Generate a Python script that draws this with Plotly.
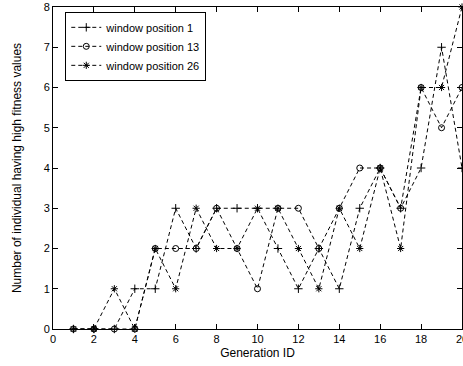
import plotly.graph_objects as go

generations = list(range(1, 21))
wp1 = [0, 0, 0, 1, 1, 3, 2, 3, 3, 3, 2, 1, 2, 1, 3, 4, 3, 4, 7, 4]
wp13 = [0, 0, 0, 0, 2, 2, 2, 3, 2, 1, 3, 3, 2, 3, 4, 4, 3, 6, 5, 6]
wp26 = [0, 0, 1, 0, 2, 1, 3, 2, 2, 3, 3, 2, 1, 3, 2, 4, 2, 6, 6, 8]
names = ["window position 1", "window position 13", "window position 26"]
symbols = ["cross-thin-open", "circle-open", "asterisk-open"]
x_ticks = [0, 2, 4, 6, 8, 10, 12, 14, 16, 18, 20]
y_ticks = [0, 1, 2, 3, 4, 5, 6, 7, 8]

fig = go.Figure()
for vals, name, sym in zip([wp1, wp13, wp26], names, symbols):
    fig.add_trace(go.Scatter(
        x=generations, y=vals, name=name, mode="lines+markers",
        line=dict(color="black", width=1, dash="4px,3px"),
        marker=dict(symbol=sym, size=6, color="black",
                    line=dict(color="black", width=1)),
        cliponaxis=False,
    ))

axis_common = dict(
    showline=True, linecolor="black", linewidth=1, mirror="allticks",
    ticks="inside", ticklen=5, tickcolor="black", showgrid=False,
    zeroline=False, tickfont=dict(size=11, color="black"), automargin=False,
    ticklabeloverflow="allow",
)
fig.update_xaxes(range=[0, 20], tickvals=x_ticks,
                 title=dict(text="Generation ID", font=dict(size=12, color="black"), standoff=4),
                 **axis_common)
fig.update_yaxes(range=[0, 8], tickvals=y_ticks,
                 title=dict(text="Number of individual having high fitness values",
                            font=dict(size=12, color="black"), standoff=19),
                 **axis_common)

fig.update_layout(
    width=463, height=366,
    margin=dict(l=53, r=1, t=7, b=37, pad=0),
    paper_bgcolor="white", plot_bgcolor="white",
    font=dict(family="Liberation Sans, Arial, sans-serif", color="black"),
    legend=dict(x=0.03, y=0.985, xanchor="left", yanchor="top",
                bordercolor="black", borderwidth=1, bgcolor="white",
                font=dict(size=11), tracegroupgap=0, itemwidth=30),
    showlegend=True,
)
fig.write_html(
    "out.html",
    config={"displayModeBar": False},
    post_script="document.body.style.margin='0';document.body.style.overflow='hidden';",
)
